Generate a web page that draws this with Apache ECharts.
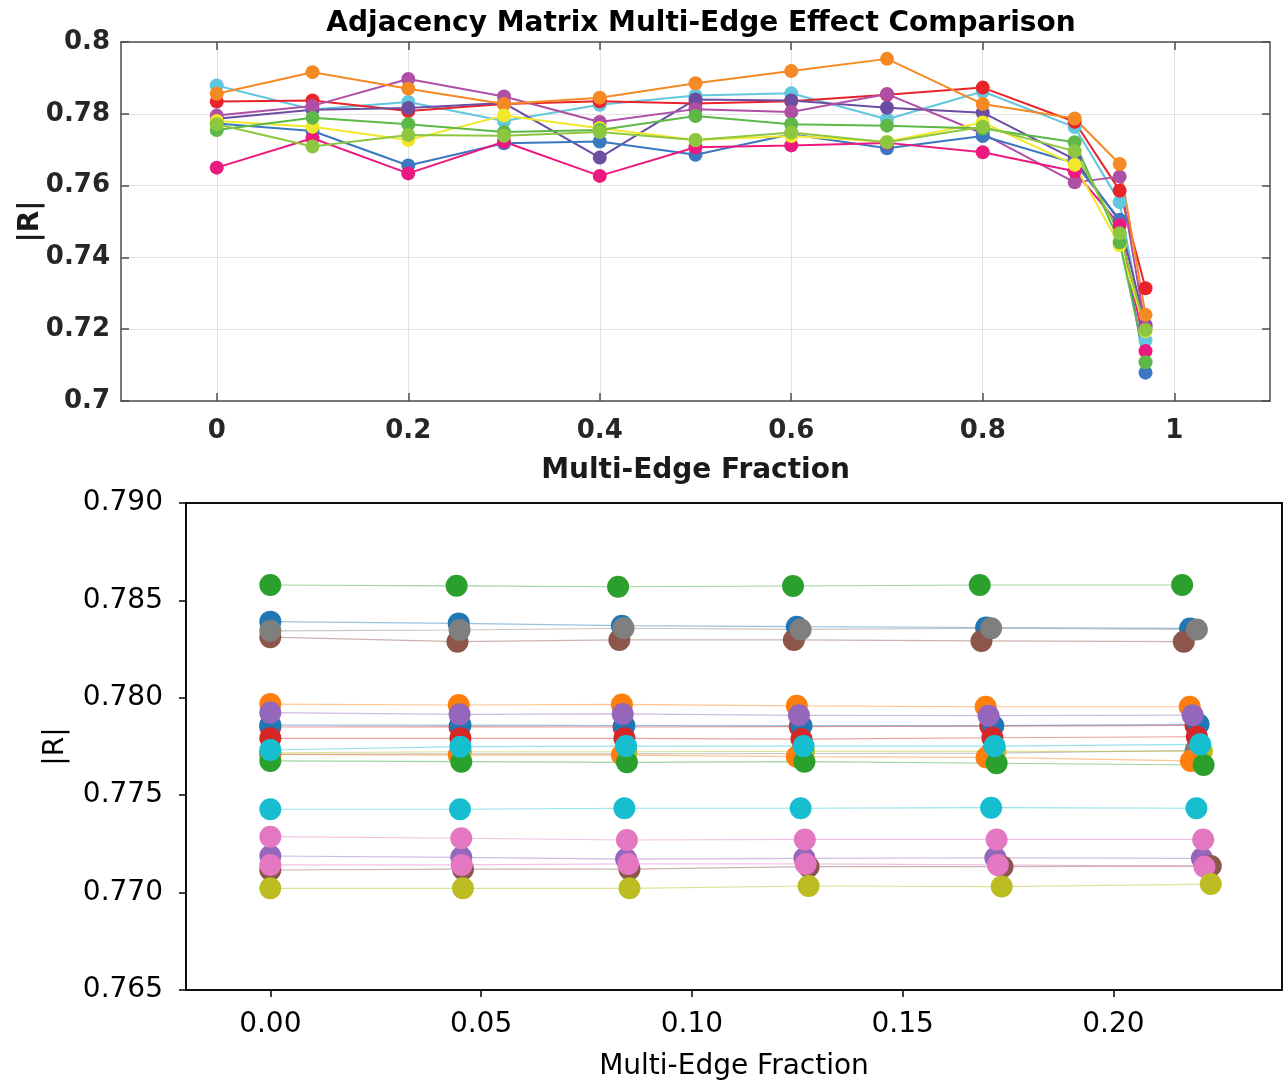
<!DOCTYPE html>
<html><head><meta charset="utf-8">
<script src="https://cdn.jsdelivr.net/npm/echarts@6/dist/echarts.min.js"></script>
<style>html,body{margin:0;padding:0;background:#fff}#c{width:1287px;height:1082px}</style>
</head><body><div id="c"></div><script>
// ---------- TOP PANEL DATA ----------
const topTitle = 'Adjacency Matrix Multi-Edge Effect Comparison';
const topX = [0, 0.1, 0.2, 0.3, 0.4, 0.5, 0.6, 0.7, 0.8, 0.896, 0.943, 0.97];
const topXTicks = [0, 0.2, 0.4, 0.6, 0.8, 1];
const tCyan    = [0.7879, 0.7812, 0.7833, 0.7780, 0.7825, 0.7851, 0.7857, 0.7785, 0.7862, 0.7763, 0.7554, 0.7169];
const tRed     = [0.7834, 0.7837, 0.7808, 0.7827, 0.7835, 0.7829, 0.7835, 0.7853, 0.7873, 0.7778, 0.7586, 0.7314];
const tPurple  = [0.7786, 0.7811, 0.7816, 0.7830, 0.7678, 0.7840, 0.7837, 0.7817, 0.7803, 0.7673, 0.7500, 0.7211];
const tMagenta = [0.7795, 0.7822, 0.7897, 0.7848, 0.7777, 0.7813, 0.7805, 0.7855, 0.7745, 0.7609, 0.7625, 0.7205];
const tOrange  = [0.7856, 0.7916, 0.7870, 0.7827, 0.7845, 0.7885, 0.7919, 0.7953, 0.7827, 0.7787, 0.7660, 0.7240];
const tBlue    = [0.7773, 0.7752, 0.7656, 0.7718, 0.7723, 0.7686, 0.7743, 0.7704, 0.7738, 0.7663, 0.7505, 0.7079];
const tPink    = [0.7650, 0.7732, 0.7634, 0.7722, 0.7627, 0.7707, 0.7712, 0.7719, 0.7693, 0.7640, 0.7490, 0.7139];
const tYellow  = [0.7780, 0.7764, 0.7727, 0.7795, 0.7760, 0.7727, 0.7738, 0.7722, 0.7776, 0.7658, 0.7434, 0.7195];
const tGreen   = [0.7755, 0.7789, 0.7771, 0.7749, 0.7755, 0.7794, 0.7771, 0.7767, 0.7759, 0.7721, 0.7442, 0.7108];
const tLime    = [0.7771, 0.7709, 0.7741, 0.7739, 0.7749, 0.7727, 0.7748, 0.7721, 0.7764, 0.7696, 0.7467, 0.7198];

// ---------- BOTTOM PANEL DATA ----------
const botXTicks = [0, 0.05, 0.10, 0.15, 0.20];
const bBlueTopX    = [0, 0.0447, 0.0834, 0.1249, 0.1698, 0.2182];
const bBlueTopY    = [0.78391, 0.78382, 0.78370, 0.78365, 0.78361, 0.78356];
const bOrangeTopX  = [0, 0.0447, 0.0834, 0.1249, 0.1697, 0.2181];
const bOrangeTopY  = [0.77968, 0.77963, 0.77966, 0.77959, 0.77954, 0.77954];
const bGreenTopX   = [0, 0.0442, 0.0825, 0.1240, 0.1683, 0.2163];
const bGreenTopY   = [0.78579, 0.78575, 0.78570, 0.78574, 0.78579, 0.78579];
const bRedHidX     = [0, 0.0449, 0.0838, 0.1256, 0.1708, 0.2195];
const bRedHidY     = [0.77850, 0.77852, 0.77850, 0.77852, 0.77855, 0.77858];
const bPurpleLowX  = [0, 0.0453, 0.0844, 0.1267, 0.1720, 0.2210];
const bPurpleLowY  = [0.77188, 0.77181, 0.77172, 0.77176, 0.77179, 0.77176];
const bBrownTopX   = [0, 0.0444, 0.0828, 0.1242, 0.1687, 0.2167];
const bBrownTopY   = [0.78311, 0.78288, 0.78297, 0.78297, 0.78292, 0.78288];
const bPinkTopX    = [0, 0.0453, 0.0846, 0.1268, 0.1723, 0.2213];
const bPinkTopY    = [0.77287, 0.77279, 0.77270, 0.77273, 0.77273, 0.77273];
const bGrayHidX    = [0, 0.0450, 0.0840, 0.1258, 0.1710, 0.2195];
const bGrayHidY    = [0.77710, 0.77712, 0.77712, 0.77714, 0.77716, 0.77730];
const bOliveMidX   = [0, 0.0452, 0.0845, 0.1266, 0.1720, 0.2210];
const bOliveMidY   = [0.77718, 0.77723, 0.77723, 0.77725, 0.77725, 0.77725];
const bCyanLowX    = [0, 0.0450, 0.0840, 0.1258, 0.1710, 0.2197];
const bCyanLowY    = [0.77428, 0.77428, 0.77433, 0.77433, 0.77436, 0.77433];
const bBlueMidX    = [0, 0.0451, 0.0840, 0.1260, 0.1715, 0.2202];
const bBlueMidY    = [0.77860, 0.77860, 0.77857, 0.77857, 0.77857, 0.77864];
const bOrangeLowX  = [0, 0.0447, 0.0834, 0.1249, 0.1699, 0.2184];
const bOrangeLowY  = [0.77710, 0.77706, 0.77706, 0.77698, 0.77694, 0.77676];
const bGreenMidX   = [0, 0.0453, 0.0846, 0.1267, 0.1723, 0.2214];
const bGreenMidY   = [0.77676, 0.77672, 0.77669, 0.77672, 0.77664, 0.77655];
const bRedMidX     = [0, 0.0451, 0.0840, 0.1260, 0.1713, 0.2198];
const bRedMidY     = [0.77792, 0.77792, 0.77792, 0.77788, 0.77795, 0.77800];
const bPurpleMidX  = [0, 0.0449, 0.0836, 0.1254, 0.1704, 0.2188];
const bPurpleMidY  = [0.77924, 0.77915, 0.77917, 0.77910, 0.77908, 0.77911];
const bBrownLowX   = [0, 0.0457, 0.0852, 0.1277, 0.1737, 0.2231];
const bBrownLowY   = [0.77116, 0.77120, 0.77120, 0.77133, 0.77133, 0.77137];
const bPinkLowX    = [0, 0.0454, 0.0849, 0.1270, 0.1726, 0.2216];
const bPinkLowY    = [0.77142, 0.77142, 0.77147, 0.77147, 0.77142, 0.77133];
const bGrayTopX    = [0, 0.0449, 0.0838, 0.1258, 0.1710, 0.2198];
const bGrayTopY    = [0.78344, 0.78348, 0.78357, 0.78351, 0.78357, 0.78351];
const bOliveLowX   = [0, 0.0457, 0.0852, 0.1277, 0.1735, 0.2231];
const bOliveLowY   = [0.77022, 0.77022, 0.77022, 0.77034, 0.77031, 0.77044];
const bCyanMidX    = [0, 0.0451, 0.0844, 0.1265, 0.1718, 0.2206];
const bCyanMidY    = [0.77732, 0.77749, 0.77752, 0.77752, 0.77752, 0.77761];

// ---------- BUILD ----------
const zip = (xs, ys) => xs.map((x, i) => [x, ys[i]]);
const topSeriesDef = [
  [tCyan, '#62C6DE'], [tRed, '#E8232A'], [tPurple, '#6B4DA1'], [tMagenta, '#B04FA6'],
  [tOrange, '#F58A24'], [tBlue, '#3B78C1'], [tPink, '#EC1A7E'], [tYellow, '#F2E82B'],
  [tGreen, '#5DB848'], [tLime, '#8DC63F']
];
const botSeriesDef = [
  [bBlueTopX, bBlueTopY, '#1f77b4'], [bOrangeTopX, bOrangeTopY, '#ff7f0e'],
  [bGreenTopX, bGreenTopY, '#2ca02c'], [bRedHidX, bRedHidY, '#d62728'],
  [bPurpleLowX, bPurpleLowY, '#9467bd'], [bBrownTopX, bBrownTopY, '#8c564b'],
  [bPinkTopX, bPinkTopY, '#e377c2'], [bGrayHidX, bGrayHidY, '#7f7f7f'],
  [bOliveMidX, bOliveMidY, '#bcbd22'], [bCyanLowX, bCyanLowY, '#17becf'],
  [bBlueMidX, bBlueMidY, '#1f77b4'], [bOrangeLowX, bOrangeLowY, '#ff7f0e'],
  [bGreenMidX, bGreenMidY, '#2ca02c'], [bRedMidX, bRedMidY, '#d62728'],
  [bPurpleMidX, bPurpleMidY, '#9467bd'], [bBrownLowX, bBrownLowY, '#8c564b'],
  [bPinkLowX, bPinkLowY, '#e377c2'], [bGrayTopX, bGrayTopY, '#7f7f7f'],
  [bOliveLowX, bOliveLowY, '#bcbd22'], [bCyanMidX, bCyanMidY, '#17becf']
];

const series = [];
topSeriesDef.forEach(([ys, c]) => series.push({
  type: 'line', xAxisIndex: 0, yAxisIndex: 0, data: zip(topX, ys),
  symbol: 'circle', symbolSize: 14, showAllSymbol: true, silent: true,
  lineStyle: { color: c, width: 2 }, itemStyle: { color: c }, animation: false
}));
botSeriesDef.forEach(([xs, ys, c]) => series.push({
  type: 'line', xAxisIndex: 2, yAxisIndex: 2, data: zip(xs, ys),
  symbol: 'circle', symbolSize: 22, showAllSymbol: true, silent: true,
  lineStyle: { color: c, width: 1.2, opacity: 0.45 }, itemStyle: { color: c }, animation: false
}));

const mGray = '#4d4d4d';
const topFont = { fontFamily: 'DejaVu Sans', fontWeight: 'bold', color: '#262626' };
const botFont = { fontFamily: 'DejaVu Sans', fontWeight: 'normal', color: '#000' };

const chart = echarts.init(document.getElementById('c'), null, { renderer: 'canvas' });
chart.setOption({
  backgroundColor: '#fff',
  animation: false,
  title: {
    text: topTitle, left: 696, top: 5, textAlign: 'center',
    textStyle: { fontFamily: 'DejaVu Sans', fontWeight: 'bold', fontSize: 28, color: '#000' }
  },
  grid: [
    { left: 121, top: 42, right: 17, bottom: 681 },
    { left: 186, top: 503, right: 5, bottom: 92, show: true, borderColor: '#000', borderWidth: 1.5, backgroundColor: 'transparent' }
  ],
  xAxis: [
    { gridIndex: 0, type: 'value', min: -0.1, max: 1.1, position: 'bottom',
      axisLine: { show: true, onZero: false, lineStyle: { color: mGray, width: 1.5 } },
      axisTick: { show: true, inside: true, length: 8, customValues: topXTicks, lineStyle: { color: mGray, width: 1.5 } },
      axisLabel: { customValues: topXTicks, margin: 17, fontSize: 26, ...topFont,
        formatter: v => String(+(+v).toFixed(2)) },
      splitLine: { show: true, lineStyle: { color: '#e3e3e3', width: 1 } },
      name: 'Multi-Edge Fraction', nameLocation: 'middle', nameGap: 56, nameMoveOverlap: false,
      nameTextStyle: { fontSize: 28, ...topFont, color: '#1a1a1a' } },
    { gridIndex: 0, type: 'value', min: -0.1, max: 1.1, position: 'top',
      axisLine: { show: true, onZero: false, lineStyle: { color: mGray, width: 1.5 } },
      axisTick: { show: true, inside: true, length: 8, customValues: topXTicks, lineStyle: { color: mGray, width: 1.5 } },
      axisLabel: { show: false }, splitLine: { show: false } },
    { gridIndex: 1, type: 'value', min: -0.02, max: 0.24, position: 'bottom',
      axisLine: { show: true, onZero: false, lineStyle: { color: '#000', width: 1.5 } },
      axisTick: { show: true, inside: false, length: 7, customValues: botXTicks, lineStyle: { color: '#000', width: 1.5 } },
      axisLabel: { customValues: botXTicks, margin: 21, fontSize: 28, ...botFont,
        formatter: v => (+v).toFixed(2) },
      splitLine: { show: false },
      name: 'Multi-Edge Fraction', nameLocation: 'middle', nameGap: 63,
      nameTextStyle: { fontSize: 28, ...botFont } },
    { gridIndex: 1, type: 'value', min: -0.02, max: 0.24, position: 'top',
      axisLine: { show: true, onZero: false, lineStyle: { color: '#000', width: 1.5 } },
      axisTick: { show: false }, axisLabel: { show: false }, splitLine: { show: false } }
  ],
  yAxis: [
    { gridIndex: 0, type: 'value', min: 0.7, max: 0.8, interval: 0.02, position: 'left',
      axisLine: { show: true, onZero: false, lineStyle: { color: mGray, width: 1.5 } },
      axisTick: { show: true, inside: true, length: 8, lineStyle: { color: mGray, width: 1.5 } },
      axisLabel: { margin: 11, fontSize: 26, ...topFont, formatter: v => String(+(+v).toFixed(2)) },
      splitLine: { show: true, lineStyle: { color: '#e3e3e3', width: 1 } },
      name: '|R|', nameLocation: 'middle', nameGap: 76, nameMoveOverlap: false,
      nameTextStyle: { fontSize: 28, ...topFont, color: '#1a1a1a' } },
    { gridIndex: 0, type: 'value', min: 0.7, max: 0.8, interval: 0.02, position: 'right',
      axisLine: { show: true, onZero: false, lineStyle: { color: mGray, width: 1.5 } },
      axisTick: { show: true, inside: true, length: 8, lineStyle: { color: mGray, width: 1.5 } },
      axisLabel: { show: false }, splitLine: { show: false } },
    { gridIndex: 1, type: 'value', min: 0.765, max: 0.79, interval: 0.005, position: 'left',
      axisLine: { show: true, onZero: false, lineStyle: { color: '#000', width: 1.5 } },
      axisTick: { show: true, inside: false, length: 7, lineStyle: { color: '#000', width: 1.5 } },
      axisLabel: { margin: 23, fontSize: 28, ...botFont, formatter: v => (+v).toFixed(3) },
      splitLine: { show: false },
      name: '|R|', nameLocation: 'middle', nameGap: 116,
      nameTextStyle: { fontSize: 28, ...botFont } },
    { gridIndex: 1, type: 'value', min: 0.765, max: 0.79, interval: 0.005, position: 'right',
      axisLine: { show: true, onZero: false, lineStyle: { color: '#000', width: 1.5 } },
      axisTick: { show: false }, axisLabel: { show: false }, splitLine: { show: false } }
  ],
  series
});
</script></body></html>
